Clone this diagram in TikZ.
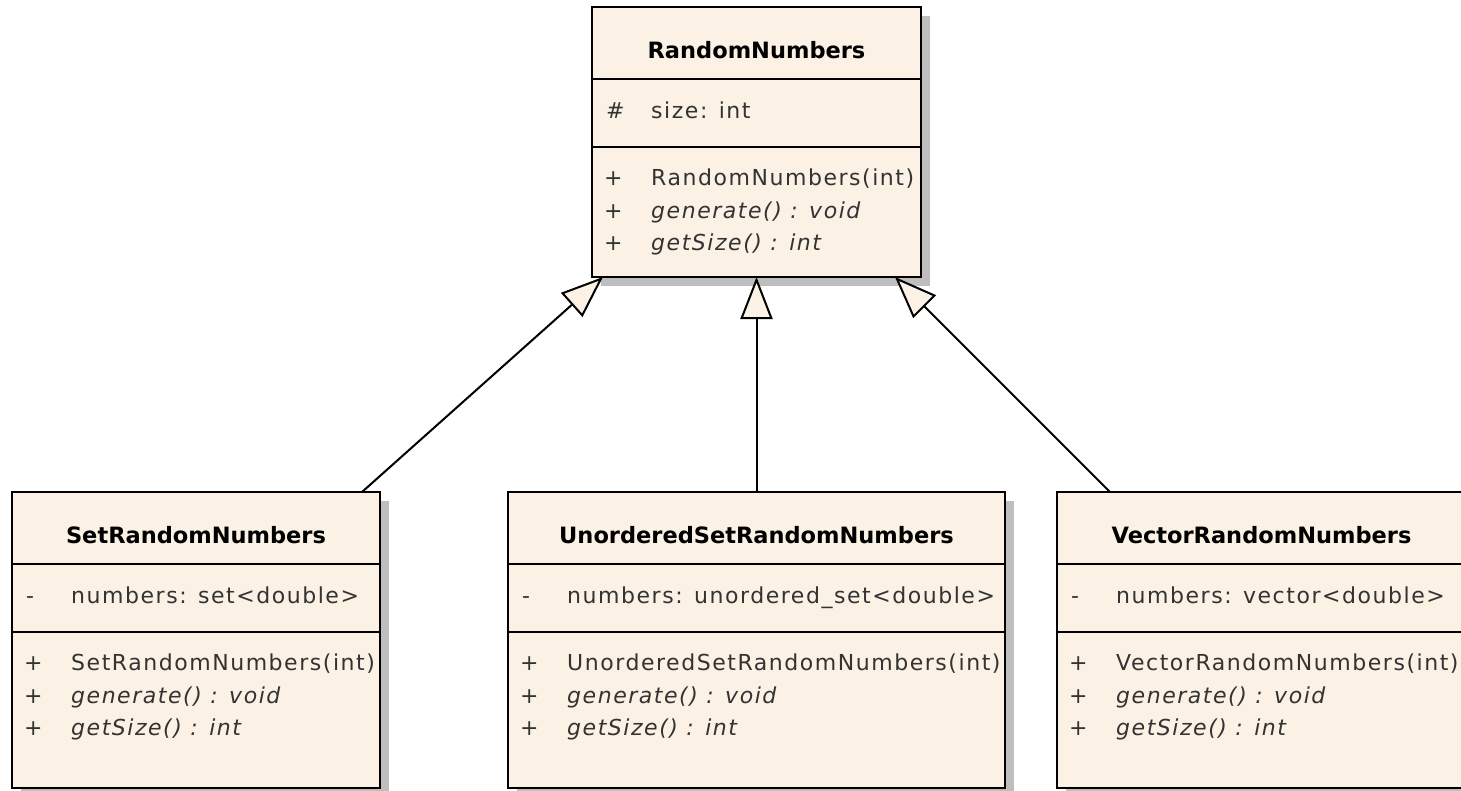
\documentclass[tikz,border=0pt]{standalone}
\usepackage{fontspec}
\setmainfont{DejaVu Sans}
\newfontfamily\umlfont[LetterSpace=7]{DejaVu Sans}
\usetikzlibrary{arrows.meta,shadows}
\definecolor{rnfill}{HTML}{FBF1E4}
\definecolor{rnshadow}{HTML}{BEBEBE}
\definecolor{rntext}{HTML}{333333}
\tikzset{
  classBox/.style={draw=black, line width=2.6pt, fill=rnfill, inner sep=0pt, outer sep=0pt, anchor=north west,
    drop shadow={shadow xshift=9pt, shadow yshift=-9pt, fill=rnshadow, opacity=1}},
  classRule/.style={line width=2pt},
  classTitle/.style={font=\fontsize{22.5}{26}\selectfont\bfseries, anchor=base, inner sep=0pt},
  classMember/.style={font=\umlfont\fontsize{22}{26}\selectfont, text=rntext, anchor=base west, inner sep=0pt},
  classMethod/.style={classMember, font=\umlfont\fontsize{22}{26}\selectfont\itshape},
  inherits/.style={line width=2pt, -{Triangle[length=42pt, width=32pt, fill=rnfill, line width=2pt]}}
}
% name, x, y, width, height, title, visibility, attribute, constructor
\newcommand{\rnclass}[9]{%
  \node[classBox, minimum width=#4pt, minimum height=#5pt] (#1) at (#2,#3) {};
  \draw[classRule] ([yshift=-72pt]#1.north west) -- ([yshift=-72pt]#1.north east);
  \draw[classRule] ([yshift=-140pt]#1.north west) -- ([yshift=-140pt]#1.north east);
  \node[classTitle] (#1-title) at ([yshift=-51pt]#1.north) {#6};
  \node[classMember] (#1-avis) at ([xshift=14pt, yshift=-111pt]#1.north west) {#7};
  \node[classMember] (#1-attr) at ([xshift=59pt, yshift=-111pt]#1.north west) {#8};
  \node[classMember] (#1-cvis) at ([xshift=12pt, yshift=-178pt]#1.north west) {+};
  \node[classMember] (#1-ctor) at ([xshift=59pt, yshift=-178pt]#1.north west) {#9};
  \node[classMember] (#1-gvis) at ([xshift=12pt, yshift=-211pt]#1.north west) {+};
  \node[classMethod] (#1-gen) at ([xshift=59pt, yshift=-211pt]#1.north west) {generate() : void};
  \node[classMember] (#1-svis) at ([xshift=12pt, yshift=-243pt]#1.north west) {+};
  \node[classMethod] (#1-size) at ([xshift=59pt, yshift=-243pt]#1.north west) {getSize() : int};
}
\begin{document}
\begin{tikzpicture}[x=1pt,y=-1pt]
  \useasboundingbox (0,0) rectangle (1461,790);
  \clip (0,0) rectangle (1461,790);
  \rnclass{rnd}{592}{7}{329}{270}{RandomNumbers}{\#}{size: int}{RandomNumbers(int)}
  \rnclass{setrn}{12}{492}{368}{296}{SetRandomNumbers}{-}{numbers: set<double>}{SetRandomNumbers(int)}
  \rnclass{unsetrn}{508}{492}{497}{296}{UnorderedSetRandomNumbers}{-}{numbers: unordered\_set<double>}{UnorderedSetRandomNumbers(int)}
  \rnclass{vecrn}{1057}{492}{409}{296}{VectorRandomNumbers}{-}{numbers: vector<double>}{VectorRandomNumbers(int)}
  \draw[inherits] ([xshift=-18pt]setrn.north east) -- ([xshift=11pt]rnd.south west);
  \draw[inherits] (unsetrn.north) -- (rnd.south);
  \draw[inherits] ([xshift=53pt]vecrn.north west) -- ([xshift=-26pt]rnd.south east);
\end{tikzpicture}
\end{document}
